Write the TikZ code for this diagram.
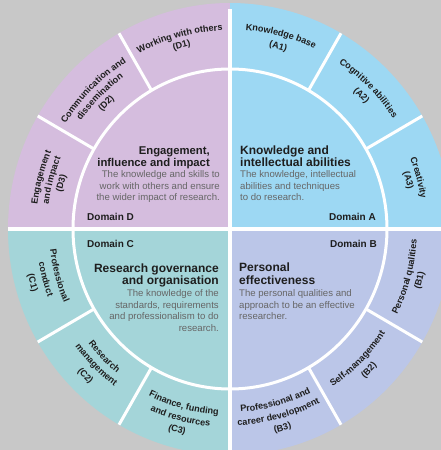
\documentclass[tikz,border=0pt]{standalone}
\usepackage{fontspec}
\setmainfont{Liberation Sans}
\usetikzlibrary{decorations.text}
\definecolor{bgc}{HTML}{C8C8C8}
\definecolor{colA}{HTML}{9DD8F3}
\definecolor{colB}{HTML}{BBC6E8}
\definecolor{colC}{HTML}{A4D5D9}
\definecolor{colD}{HTML}{D5BDDE}
\definecolor{bodyc}{HTML}{666666}
\definecolor{titlec}{HTML}{1E1E1E}
\newcommand\ringfont{\bfseries\fontsize{9.1}{10}\selectfont}
\newcommand\myys{1.018}
\newcommand\toplab[3]{%
  \pgfmathsetmacro\lsx{#2*cos(#1+22)}%
  \pgfmathsetmacro\lsy{#2*\myys*sin(#1+22)}%
  \pgfmathsetmacro\lry{#2*\myys}%
  \path[decorate,decoration={text along path,text align=center,text color=titlec,text={|\ringfont|#3}}]
    (\lsx,\lsy) arc[start angle={#1+22},end angle={#1-22},x radius=#2pt,y radius=\lry pt];}
\newcommand\botlab[3]{%
  \pgfmathsetmacro\lsx{#2*cos(#1-22)}%
  \pgfmathsetmacro\lsy{#2*\myys*sin(#1-22)}%
  \pgfmathsetmacro\lry{#2*\myys}%
  \path[decorate,decoration={text along path,text align=center,text color=titlec,text={|\ringfont|#3}}]
    (\lsx,\lsy) arc[start angle={#1-22},end angle={#1+22},x radius=#2pt,y radius=\lry pt];}
\tikzset{
  ttl/.style={font=\bfseries\fontsize{12}{12}\selectfont, text=titlec, inner sep=0pt},
  ttld/.style={font=\bfseries\fontsize{11.3}{12}\selectfont, text=titlec, inner sep=0pt},
  bdy/.style={font=\fontsize{9.6}{10}\selectfont, text=bodyc, inner sep=0pt},
  dom/.style={font=\bfseries\fontsize{10}{10}\selectfont, text=titlec, inner sep=0pt},
  sep/.style={white, line width=3.2pt}
}
\begin{document}
\begin{tikzpicture}[x=1pt,y=1pt]
\useasboundingbox (-230,-221) rectangle (211,229);
\fill[bgc] (-230,-221) rectangle (211,229);
% quadrants
\fill[colA] (0,0) -- (222,0) arc[start angle=0,end angle=90,x radius=222pt,y radius=226pt] -- cycle;
\fill[colD] (0,0) -- (0,226) arc[start angle=90,end angle=180,x radius=222pt,y radius=226pt] -- cycle;
\fill[colC] (0,0) -- (-222,0) arc[start angle=180,end angle=270,x radius=222pt,y radius=226pt] -- cycle;
\fill[colB] (0,0) -- (0,-226) arc[start angle=270,end angle=360,x radius=222pt,y radius=226pt] -- cycle;
% separators
\draw[sep] (-222,0) -- (222,0);
\draw[sep] (0,-226) -- (0,220);
\draw[sep, line width=3pt] (0,0) ellipse [x radius=157pt, y radius=160pt];
\foreach \a in {30,60,120,150,210,240,300,330}
  \draw[sep, line width=3pt] (\a:157pt and 160pt) -- (\a:222pt and 226pt);
% ring labels, top half
\toplab{105}{195}{Working with others}
\toplab{105}{184}{(D1)}
\toplab{135}{194}{Communication and}
\toplab{135}{183}{dissemination}
\toplab{135}{172}{(D2)}
\toplab{165}{194}{Engagement}
\toplab{165}{183}{and impact}
\toplab{165}{172}{(D3)}
\toplab{75}{196}{Knowledge base}
\toplab{75}{183}{(A1)}
\toplab{45}{196}{Cognitive abilities}
\toplab{45}{183}{(A2)}
\toplab{15}{193}{Creativity}
\toplab{15}{182}{(A3)}
% ring labels, bottom half
\botlab{-165}{181}{Professional}
\botlab{-165}{194}{conduct}
\botlab{-165}{207}{(C1)}
\botlab{-135}{181}{Research}
\botlab{-135}{193}{management}
\botlab{-135}{207}{(C2)}
\botlab{-105}{183}{Finance, funding}
\botlab{-105}{195}{and resources}
\botlab{-105}{207}{(C3)}
\botlab{-15}{187}{Personal qualities}
\botlab{-15}{199}{(B1)}
\botlab{-45}{186}{Self-management}
\botlab{-45}{199}{(B2)}
\botlab{-75}{180}{Professional and}
\botlab{-75}{193}{career development}
\botlab{-75}{205}{(B3)}
% Domain D
\node[ttld, anchor=base east] (dt1) at (-20,74) {Engagement,};
\node[ttld, anchor=base east] (dt2) at (-20,62) {influence and impact};
\node[bdy, anchor=base east] (db1) at (-10,51) {The knowledge and skills to};
\node[bdy, anchor=base east] (db2) at (-10,39.5) {work with others and ensure};
\node[bdy, anchor=base east] (db3) at (-10,28) {the wider impact of research.};
\node[dom, anchor=base west] (dd) at (-143,9) {Domain D};
% Domain A
\node[ttl, anchor=base west] (at1) at (10,74) {Knowledge and};
\node[ttl, anchor=base west] (at2) at (10,62) {intellectual abilities};
\node[bdy, anchor=base west] (ab1) at (10,51) {The knowledge, intellectual};
\node[bdy, anchor=base west] (ab2) at (10,39.5) {abilities and techniques};
\node[bdy, anchor=base west] (ab3) at (10,28) {to do research.};
\node[dom, anchor=base east] (ad) at (146,9) {Domain A};
% Domain C
\node[dom, anchor=base west] (cd) at (-143,-19) {Domain C};
\node[ttl, anchor=base east] (ct1) at (-11,-43) {Research governance};
\node[ttl, anchor=base east] (ct2) at (-11,-55.5) {and organisation};
\node[bdy, anchor=base east] (cb1) at (-11,-67.5) {The knowledge of the};
\node[bdy, anchor=base east] (cb2) at (-11,-79) {standards, requirements};
\node[bdy, anchor=base east] (cb3) at (-11,-90.5) {and professionalism to do};
\node[bdy, anchor=base east] (cb4) at (-11,-102) {research.};
% Domain B
\node[dom, anchor=base east] (bd) at (147,-19) {Domain B};
\node[ttl, anchor=base west] (bt1) at (9,-42) {Personal};
\node[ttl, anchor=base west] (bt2) at (9,-55) {effectiveness};
\node[bdy, anchor=base west] (bb1) at (9,-67.5) {The personal qualities and};
\node[bdy, anchor=base west] (bb2) at (9,-79) {approach to be an effective};
\node[bdy, anchor=base west] (bb3) at (9,-90.5) {researcher.};
\end{tikzpicture}
\end{document}
